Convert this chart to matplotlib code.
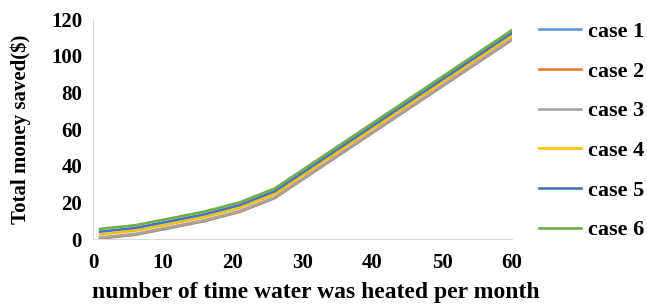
import matplotlib
matplotlib.use("Agg")
import matplotlib.pyplot as plt

# times water heated per month
x = [1, 6, 11, 16, 21, 26, 60]

case1 = [0.3, 2.3, 6.0, 9.8, 14.8, 22.3, 108.6]
case2 = [0.5, 2.5, 6.2, 10.0, 15.0, 22.5, 108.9]
case3 = [0.8, 2.8, 6.5, 10.3, 15.3, 22.8, 109.2]
case4 = [2.5, 4.5, 8.2, 12.0, 17.0, 24.5, 110.9]
case5 = [4.0, 6.0, 9.7, 13.5, 18.5, 26.0, 112.4]
case6 = [5.5, 7.5, 11.2, 15.0, 20.0, 27.5, 113.9]

labels = ["case 1", "case 2", "case 3", "case 4", "case 5", "case 6"]
colors = ["#5B9BD5", "#ED7D31", "#A5A5A5", "#FFC000", "#4472C4", "#70AD47"]

plt.rcParams['font.family'] = ['Liberation Serif', 'DejaVu Serif']
plt.rcParams['font.weight'] = 'bold'

fig = plt.figure(figsize=(6.47, 3.08), dpi=100)
ax = fig.add_axes([0.144, 0.224, 0.647, 0.714])

for ys, lab, c in zip([case1, case2, case3, case4, case5, case6], labels, colors):
    ax.plot(x, ys, color=c, lw=1.9, label=lab)

ax.set_xlim(0, 60)
ax.set_ylim(0, 120)
ax.set_xticks(range(0, 61, 10))
ax.set_yticks(range(0, 121, 20))
ax.tick_params(length=0, labelsize=15, pad=8)
ax.tick_params(axis='x', pad=10)
for t in ax.get_xticklabels() + ax.get_yticklabels():
    t.set_fontweight('bold')

for s in ['top', 'right']:
    ax.spines[s].set_visible(False)
for s in ['left', 'bottom']:
    ax.spines[s].set_color('#D9D9D9')

ax.set_xlabel("number of time water was heated per month", fontsize=17, fontweight='bold')
ax.xaxis.set_label_coords(0.532, -0.195)
ax.set_ylabel("Total money saved($)", fontsize=15, fontweight='bold', labelpad=14)

leg = fig.legend(loc='upper left', bbox_to_anchor=(0.833, 0.93), frameon=False,
                 fontsize=16, labelspacing=0.86, handlelength=1.9, handletextpad=0.3,
                 borderpad=0, borderaxespad=0)
for t in leg.get_texts():
    t.set_fontweight('bold')

fig.savefig("out.png", dpi=100)
